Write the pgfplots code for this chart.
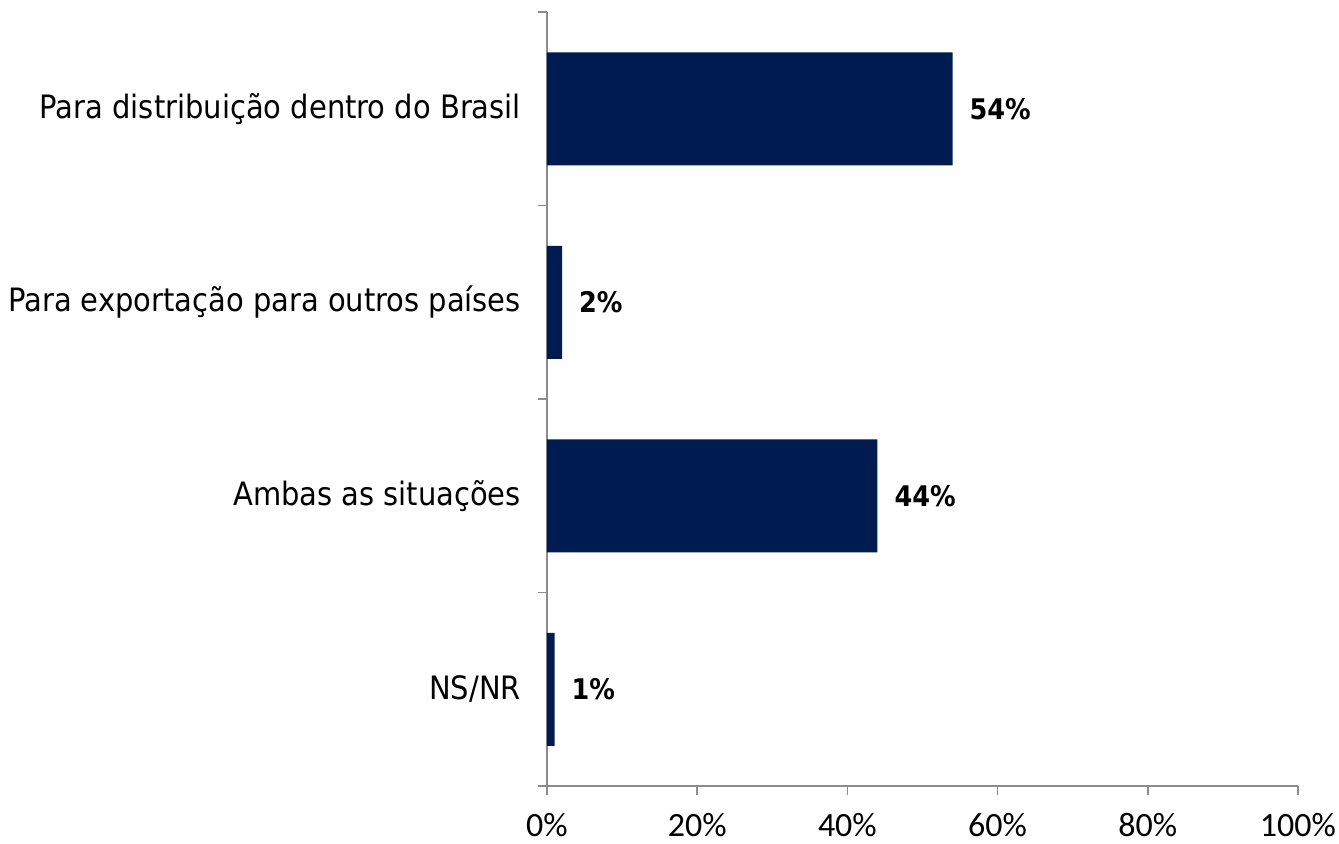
\documentclass[border=0pt]{standalone}
\usepackage{pgfplots}
\pgfplotsset{compat=1.18}
\usepackage{fontspec}
\setmainfont{DejaVu Sans Condensed}
\newfontfamily\tickfont{Carlito}
\definecolor{barblue}{RGB}{0,27,80}
\definecolor{axgray}{RGB}{140,140,140}
\begin{document}
\begin{tikzpicture}
\path[use as bounding box] (-273.5pt,-28.5pt) rectangle (396pt,393pt);
\begin{axis}[
  at={(0,0)}, anchor=south west,
  scale only axis,
  width=375.5pt, height=387pt,
  xbar, bar width=0.584,
  xmin=0, xmax=100,
  ymin=-0.5, ymax=3.5,
  y dir=reverse,
  axis x line*=bottom,
  axis y line*=left,
  axis line style={axgray, line width=0.8pt},
  xtick={0,20,40,60,80,100},
  xticklabels={0\%,20\%,40\%,60\%,80\%,100\%},
  xticklabel style={font=\tickfont\fontsize{17pt}{19pt}\selectfont, yshift=-5.5pt},
  ytick={0,1,2,3},
  yticklabels={Para distribuição dentro do Brasil,Para exportação para outros países,Ambas as situações,NS/NR},
  yticklabel style={font=\fontsize{16.1pt}{19pt}\selectfont, anchor=east, xshift=-5pt},
  minor ytick={-0.5,0.5,1.5,2.5,3.5},
  major y tick style={draw=none},
  minor y tick style={axgray, line width=0.8pt},
  major x tick style={axgray, line width=0.8pt},
  tick align=outside,
  major tick length=4.5pt,
  minor tick length=4.5pt,
  nodes near coords={\pgfplotspointmeta\%},
  nodes near coords style={font=\bfseries\fontsize{14.2pt}{17pt}\selectfont, anchor=west, xshift=5pt},
  point meta=explicit symbolic,
]
\addplot[fill=barblue, draw=none] coordinates {
  (54,0) [54]
  (2,1) [2]
  (44,2) [44]
  (1,3) [1]
};
\end{axis}
\end{tikzpicture}
\end{document}
